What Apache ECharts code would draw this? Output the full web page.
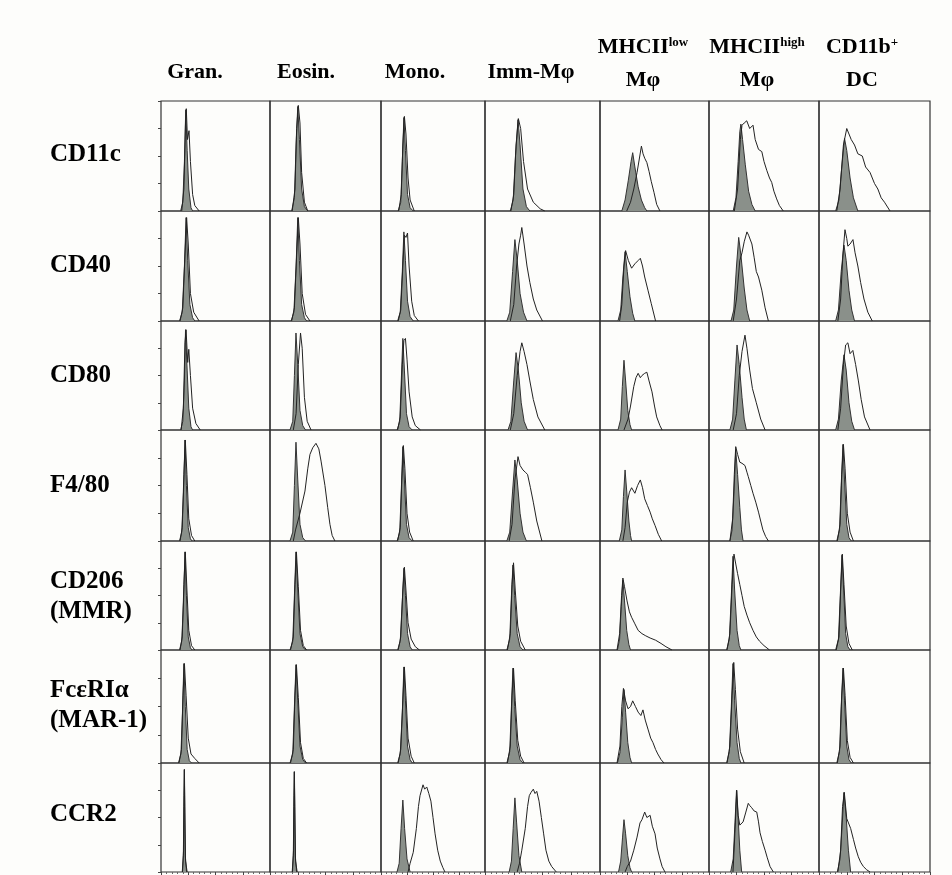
<!DOCTYPE html>
<html><head><meta charset="utf-8">
<script src="https://cdn.jsdelivr.net/npm/echarts@6/dist/echarts.min.js"></script>
<style>html,body{margin:0;padding:0;background:#fdfdfb}#c{width:952px;height:875px}</style>
</head><body><div id="c"></div><script>
// ---- labels ----
const columnLabels = ['Gran.', 'Eosin.', 'Mono.', 'Imm-Mφ', ['MHCII', 'low', 'Mφ'], ['MHCII', 'high', 'Mφ'], ['CD11b', '+', 'DC']];
const rowLabels = [['CD11c'], ['CD40'], ['CD80'], ['F4/80'], ['CD206', '(MMR)'], ['FcεRIα', '(MAR-1)'], ['CCR2']];

// ---- histogram data: [fluorescence (% of panel width), count (% of max)] ----
// columns: Gran., Eosin., Mono., Imm-Mφ, MHCIIlow Mφ, MHCIIhigh Mφ, CD11b+ DC
const cd11cIso = [
  [[18,0],[20,8],[21.5,45],[22.7,92],[24,55],[25.5,20],[27.5,3],[29,0]],
  [[19.5,0],[22,12],[23.5,60],[25,95],[26.5,65],[28.5,20],[31,4],[34,0]],
  [[16.5,0],[19,8],[20.5,45],[22,85],[23.5,55],[25.5,15],[28,3],[31,0]],
  [[22,0],[24.5,10],[26.5,50],[28.7,83],[30.5,60],[33,20],[36,4],[39,0]],
  [[20,0],[23,10],[26,28],[28.5,45],[30,53],[32,40],[35,22],[38,10],[41,3],[43,0]],
  [[22,0],[24.5,12],[26.5,45],[28,72],[29,79],[30.5,65],[33,42],[36,18],[39,6],[42,0]],
  [[15,0],[18,10],[20.5,40],[23,66],[25,55],[28,30],[31,12],[35,0]]
];
const cd11cStain = [
  [[19,0],[21,20],[22.5,80],[23.2,93],[24.3,65],[25.7,73],[27,45],[29,15],[31,5],[35,0]],
  [[20,0],[22.5,20],[24,75],[25.5,96],[27,80],[28.5,35],[31,8],[34,0]],
  [[17,0],[19.5,15],[21,60],[22.5,86],[24,70],[26,30],[28,10],[32,0]],
  [[22.5,0],[25,15],[27,60],[29,84],[31,75],[33.5,45],[37,20],[42,8],[48,2],[52,0]],
  [[24.5,0],[28,8],[31,20],[34,35],[36.5,50],[38,59],[39.5,52],[41,48],[43,44],[45,36],[47,27],[49.5,17],[52,6],[55,0]],
  [[23,0],[26,20],[28.5,65],[30,78],[32,80],[34.3,82],[37,75],[40,78],[42,65],[45,56],[48,54],[50,45],[52.5,37],[55,30],[57,26],[59,18],[61.5,11],[64,5],[67.5,0]],
  [[16,0],[19,20],[22,60],[25,75],[27,70],[29,65],[32,60],[35,52],[39,50],[42,40],[46,35],[50,25],[53,20],[56,12],[59,8],[64,0]]
];
const cd40Iso = [
  [[17,0],[19.5,8],[21.5,50],[23,94],[24.5,55],[26.5,15],[29,3],[31,0]],
  [[19,0],[21.5,8],[23.5,50],[25,94],[26.5,55],[28.5,15],[31,3],[33,0]],
  [[16,0],[18.5,8],[20.5,45],[22,81],[23.5,55],[25.5,18],[28,4],[31,0]],
  [[19,0],[21.5,8],[24,45],[26,74],[28,55],[30.5,25],[33.5,8],[36.5,0]],
  [[16.5,0],[19,10],[21,40],[23,63],[25,45],[27.5,22],[30,7],[32,0]],
  [[20,0],[22.5,10],[25,50],[27,76],[29,60],[32,30],[34.5,10],[37,0]],
  [[15,0],[17.5,10],[20,45],[22.5,69],[24.5,55],[27,28],[29.5,10],[32,0]]
];
const cd40Stain = [
  [[17.5,0],[20,12],[22,60],[23.5,94],[25,70],[27,25],[30,8],[35,0]],
  [[19.5,0],[22,12],[24,60],[25.5,94],[27,70],[29,25],[32,6],[36,0]],
  [[16.5,0],[19,10],[21,50],[22.5,78],[24,76],[25.5,80],[27,50],[29.5,18],[32,5],[36,0]],
  [[22,0],[25,15],[27.5,50],[29.5,70],[31,78],[32,85],[34,70],[36.5,50],[39,35],[42,20],[45,10],[50,0]],
  [[18,0],[20,15],[22,50],[23.5,64],[26,55],[29,48],[32,52],[35,55],[37,57],[39,50],[41,40],[44,28],[47,16],[51,0]],
  [[22,0],[25,20],[28,55],[30,62],[32,72],[34.5,81],[36,78],[39,70],[41,58],[43,45],[45,40],[48,28],[51,12],[54,0]],
  [[17,0],[19.5,20],[21.5,60],[23.4,83],[25,75],[26,68],[28,70],[30.6,74],[32.5,62],[35,50],[37.5,35],[40.5,20],[44,8],[48,0]]
];
const cd80Iso = [
  [[18,0],[20,8],[21.5,45],[22.5,92],[24,55],[25.5,20],[27.5,3],[29,0]],
  [[18,0],[20.5,8],[22,50],[23.4,89],[25,60],[27,18],[29.5,4],[32,0]],
  [[15.5,0],[18,8],[19.5,45],[21,84],[22.5,55],[24.5,15],[27,3],[30,0]],
  [[20,0],[22.5,8],[25,45],[27,71],[29,55],[31.5,25],[34,8],[37,0]],
  [[16.5,0],[19,10],[20.5,40],[22,64],[23.5,45],[25.5,18],[27.5,5],[29,0]],
  [[19,0],[21.5,10],[23.5,45],[25.5,78],[27.5,60],[30,30],[32,10],[34,0]],
  [[15,0],[17.5,10],[20,45],[22.5,69],[24.5,55],[27,25],[29.5,8],[32,0]]
];
const cd80Stain = [
  [[18.5,0],[20.5,20],[22,80],[23,92],[24.5,62],[25.5,74],[27,50],[29,20],[32,6],[36,0]],
  [[21,0],[23.5,15],[25.5,60],[27.5,89],[29,75],[31,30],[33.5,8],[37,0]],
  [[16,0],[18.5,12],[20.5,60],[22,82],[23.5,84],[25,65],[27,35],[30,12],[33,4],[38,0]],
  [[22,0],[25,15],[28,50],[30.5,72],[32,80],[34,72],[36.5,60],[39,45],[42,28],[46,12],[52,0]],
  [[22,0],[25.7,10],[28,22],[31,40],[33,48],[35,52],[37,48],[38.5,50],[41,52],[43,53],[45,45],[47.7,35],[50,22],[52,12],[55,4],[57,0]],
  [[22,0],[25,15],[27.5,50],[30,72],[32.7,87],[34.5,75],[37,55],[39.5,38],[43,25],[47,10],[51,0]],
  [[17,0],[19.5,20],[22,60],[24,78],[26,80],[28,70],[30.5,73],[33,60],[35.5,45],[38,28],[41,12],[46,0]]
];
const f480Iso = [
  [[17,0],[19,8],[20.7,45],[22,91],[23.3,50],[25,12],[27,2],[28.5,0]],
  [[18,0],[20.5,8],[22,50],[23.4,89],[25,55],[27,15],[29.5,3],[32,0]],
  [[15.5,0],[18,8],[19.5,45],[21,85],[22.5,55],[24.5,15],[27,3],[30,0]],
  [[19,0],[21.5,8],[24,45],[26,73],[28,55],[30.5,25],[33,8],[36,0]],
  [[17.7,0],[20,10],[21.5,40],[23,64],[24.5,45],[26.5,18],[28,5],[29,0]],
  [[19,0],[21,10],[22.8,45],[24.3,82],[26,60],[28,30],[29.5,10],[31,0]],
  [[16,0],[18.5,10],[20,50],[21.6,87],[23,55],[25,15],[27,3],[29,0]]
];
const f480Stain = [
  [[17.5,0],[19.5,12],[21,60],[22.3,91],[23.8,60],[25.5,20],[28,5],[31,0]],
  [[21,0],[23,10],[27,25],[31.5,45],[34,65],[36,78],[38.5,84],[41.4,88],[44,83],[46,72],[49.5,50],[52,30],[54,15],[56,5],[58.5,0]],
  [[16,0],[18.5,12],[20,55],[21.5,86],[23,65],[25,25],[27.5,8],[31,0]],
  [[21,0],[23.5,15],[26,55],[28.7,76],[30.5,68],[33,64],[35,62],[37,60],[39.5,48],[42,35],[45,18],[49.5,0]],
  [[21,0],[23,12],[25,35],[27,44],[29,48],[32,43],[34.5,50],[37,55],[39,48],[41,38],[43.5,32],[46,26],[48,20],[50.5,14],[53.5,6],[56.6,0]],
  [[19,0],[21.5,20],[23,60],[24.3,85],[26,78],[28,71],[30,70],[32.7,68],[34.5,62],[35.7,58],[38,50],[40,43],[42.5,35],[45,26],[47,18],[49,10],[51.5,4],[54,0]],
  [[16.5,0],[19,15],[20.5,60],[22,87],[23.5,65],[25.5,25],[28,8],[31,0]]
];
const cd206Iso = [
  [[17,0],[19,8],[20.7,45],[22,90],[23.3,50],[25,12],[27,2],[28.5,0]],
  [[18,0],[20.5,8],[22,50],[23.4,90],[25,55],[27,15],[29.5,3],[32,0]],
  [[16,0],[18.5,8],[20.5,45],[22,75],[23.5,50],[25.5,15],[28,3],[30,0]],
  [[19,0],[21.5,10],[23,50],[24.3,78],[25.8,50],[28,15],[30.5,3],[33,0]],
  [[16,0],[18,10],[19.5,40],[21,64],[22.5,45],[24.5,18],[26.5,5],[28,0]],
  [[16,0],[18.5,10],[20.3,50],[21.8,86],[23.3,55],[25.5,18],[27.5,4],[29,0]],
  [[15,0],[17.5,10],[19.2,50],[20.7,87],[22.2,55],[24,15],[26,3],[28,0]]
];
const cd206Stain = [
  [[17.5,0],[19.5,12],[21,60],[22.3,90],[23.8,55],[25.5,18],[28,4],[31,0]],
  [[18.5,0],[21,12],[22.5,60],[23.8,90],[25.5,58],[27.5,18],[30,4],[33,0]],
  [[16.5,0],[19,12],[21,55],[22.5,76],[24,55],[26,25],[29,10],[33,3],[37,0]],
  [[19.5,0],[22,15],[23.5,60],[24.8,80],[26.3,55],[28.5,22],[31,8],[35,0]],
  [[15.6,0],[18,15],[19.8,50],[21,66],[22.5,58],[24.8,45],[27,35],[29,30],[32,24],[35,18],[38.5,15],[42,13],[46,11],[51,9],[56,6],[60.5,3],[66,0]],
  [[16.4,0],[19,15],[21,60],[22.7,88],[24.5,78],[26,70],[28,60],[30,50],[32,40],[34.5,32],[37,25],[40,18],[43,12],[46,8],[50,4],[55,0]],
  [[15.5,0],[18,12],[19.5,55],[21,88],[22.5,60],[24.5,22],[27,6],[30,0]]
];
const fceriIso = [
  [[16,0],[18.3,8],[19.7,45],[21,88],[22.3,50],[24,12],[26,2],[28,0]],
  [[18,0],[20.5,8],[22,50],[23.4,87],[25,55],[27,15],[29.5,3],[32,0]],
  [[16,0],[18.5,8],[20.5,45],[22,85],[23.5,55],[25.5,15],[28,3],[30,0]],
  [[19,0],[21.5,10],[23,50],[24.3,84],[25.8,50],[28,15],[30.5,3],[33,0]],
  [[16,0],[18.5,10],[20.5,40],[22,65],[23.5,45],[25.5,18],[27.5,5],[29,0]],
  [[16,0],[18.5,10],[20.3,50],[21.8,88],[23.3,55],[25.5,18],[27.5,4],[29,0]],
  [[16,0],[18.5,10],[20,50],[21.6,84],[23,55],[25,15],[27,3],[29,0]]
];
const fceriStain = [
  [[16.5,0],[18.8,12],[20.2,60],[21.5,88],[23,60],[25,22],[27.5,8],[31,4],[35,0]],
  [[18.5,0],[21,12],[22.5,60],[23.8,87],[25.5,58],[27.5,18],[30,4],[33,0]],
  [[16.5,0],[19,12],[21,55],[22.5,85],[24,60],[26,22],[29,6],[32,0]],
  [[19.5,0],[22,15],[23.5,60],[24.8,84],[26.3,55],[28.5,20],[31,6],[34,0]],
  [[15.6,0],[18.3,15],[20,50],[21.5,66],[23.5,55],[25.7,48],[28,50],[30,55],[32.5,50],[35,45],[37.5,42],[39.4,47],[41.5,38],[44,30],[46.5,22],[48.6,18],[51,12],[53,8],[56,3],[58.7,0]],
  [[16.4,0],[19,15],[21,60],[22.5,89],[24,65],[26,30],[28.5,10],[32,0]],
  [[16.5,0],[19,15],[20.5,60],[22,84],[23.5,60],[25.5,20],[28,5],[31,0]]
];
const ccr2Iso = [
  [[19.5,0],[20.5,15],[21,60],[21.4,94],[21.8,60],[22.3,15],[23.5,0]],
  [[20,0],[21,15],[21.5,60],[21.9,92],[22.3,60],[22.8,15],[24,0]],
  [[15.4,0],[17.5,8],[19.3,40],[21,66],[22.7,40],[25,12],[28,0]],
  [[21,0],[23,10],[24.5,40],[26,68],[27.5,45],[29.5,15],[32,0]],
  [[17,0],[19,10],[20.7,32],[22,48],[23.5,35],[25.5,15],[27.5,4],[29,0]],
  [[19.7,0],[22,12],[23.6,45],[25,75],[26.5,50],[28,20],[29.7,0]],
  [[16.5,0],[19,12],[21,45],[22.5,73],[24.5,50],[26.5,20],[28.5,0]]
];
const ccr2Stain = [
  [[19.7,0],[20.7,20],[21.1,70],[21.5,94],[21.9,55],[22.5,10],[24,0]],
  [[20.2,0],[21.2,20],[21.6,70],[22,92],[22.4,55],[23,10],[24.5,0]],
  [[26,0],[28,8],[31,18],[34,40],[36,60],[37.5,70],[40.4,80],[42,76],[44,78],[46,72],[48,65],[50,50],[52,35],[54.5,20],[57,10],[59.5,4],[61.5,0]],
  [[28,0],[30,8],[32,20],[35,40],[37,60],[38.5,70],[40,73],[42,76],[43.5,72],[45,74],[47,65],[49,50],[51,35],[53,20],[55.5,10],[58,5],[62,0]],
  [[23,0],[25,5],[28,10],[31,20],[34,32],[36.7,45],[38.5,48],[41,55],[43,50],[46,52],[48,42],[50.5,35],[52.5,22],[55,12],[57,5],[59.6,0]],
  [[21.8,0],[23.5,35],[25.2,75],[26.5,52],[28,43],[31,46],[33.5,55],[35.7,63],[37,61],[38.8,59],[41,56],[43.4,55],[45,46],[46.4,36],[48.5,28],[51,20],[53,13],[55.5,5],[58.5,0]],
  [[17,0],[19.5,20],[21.2,60],[22.8,73],[25,49],[26.4,48],[28.5,40],[31,30],[33,22],[35.4,14],[37.5,9],[40,5],[43,2],[46,0]]
];

// ---- layout (pixels) ----
const colEdges = [161, 270, 381, 485, 600, 709, 819, 930];
const rowEdges = [101, 211, 321, 430, 541, 650, 763, 872];
const colLabelX = [195, 306, 415, 531, 643, 757, 862];
const rowLabelY = [155, 266, 376, 486, 597, 706, 815];

const isoRows = [cd11cIso, cd40Iso, cd80Iso, f480Iso, cd206Iso, fceriIso, ccr2Iso];
const stainRows = [cd11cStain, cd40Stain, cd80Stain, f480Stain, cd206Stain, fceriStain, ccr2Stain];

const FONT = '"Liberation Serif", "Times New Roman", serif';
const grids = [], xAxes = [], yAxes = [], series = [];
for (let r = 0; r < 7; r++) {
  for (let c = 0; c < 7; c++) {
    const i = r * 7 + c;
    grids.push({
      left: colEdges[c], top: rowEdges[r],
      width: colEdges[c + 1] - colEdges[c], height: rowEdges[r + 1] - rowEdges[r],
      show: true, borderColor: '#333', borderWidth: 1.2, backgroundColor: 'transparent'
    });
    xAxes.push({
      type: 'value', gridIndex: i, min: 0, max: 100, interval: 25,
      axisLine: { show: false }, splitLine: { show: false }, axisLabel: { show: false },
      axisTick: { show: r === 6, length: 3, lineStyle: { color: '#444' } },
      minorTick: { show: r === 6, splitNumber: 5, length: 2, lineStyle: { color: '#666' } }
    });
    yAxes.push({
      type: 'value', gridIndex: i, min: 0, max: 100, interval: 25,
      axisLine: { show: false }, splitLine: { show: false }, axisLabel: { show: false },
      axisTick: { show: c === 0, length: 3, lineStyle: { color: '#444' } }
    });
    series.push({
      type: 'line', xAxisIndex: i, yAxisIndex: i, data: isoRows[r][c],
      symbol: 'none', silent: true, animation: false, z: 2,
      lineStyle: { color: '#333', width: 1 },
      areaStyle: { color: '#8a908a', opacity: 1 }
    });
    series.push({
      type: 'line', xAxisIndex: i, yAxisIndex: i, data: stainRows[r][c],
      symbol: 'none', silent: true, animation: false, z: 3,
      lineStyle: { color: '#222', width: 1 }
    });
  }
}

const graphics = [];
const richStyles = {
  m: { font: 'bold 22px ' + FONT, fill: '#000' },
  s: { font: 'bold 13px ' + FONT, fill: '#000', verticalAlign: 'top', padding: [0, 0, 8, 0] }
};
columnLabels.forEach((lab, c) => {
  if (typeof lab === 'string') {
    graphics.push({ type: 'text', x: colLabelX[c], y: 72, style: { text: lab, font: 'bold 22px ' + FONT, fill: '#000', align: 'center', verticalAlign: 'middle' } });
  } else {
    graphics.push({ type: 'text', x: colLabelX[c], y: 47, style: { text: '{m|' + lab[0] + '}{s|' + lab[1] + '}', rich: richStyles, align: 'center', verticalAlign: 'middle' } });
    graphics.push({ type: 'text', x: colLabelX[c], y: 80, style: { text: lab[2], font: 'bold 22px ' + FONT, fill: '#000', align: 'center', verticalAlign: 'middle' } });
  }
});
rowLabels.forEach((lab, r) => {
  graphics.push({ type: 'text', x: 50, y: rowLabelY[r], style: { text: lab.join('\n'), font: 'bold 25px ' + FONT, lineHeight: 30, fill: '#000', align: 'left', verticalAlign: 'middle' } });
});

const chart = echarts.init(document.getElementById('c'), null, { renderer: 'canvas' });
chart.setOption({
  backgroundColor: '#fdfdfb',
  animation: false,
  grid: grids, xAxis: xAxes, yAxis: yAxes, series: series,
  graphic: graphics
});
</script></body></html>
